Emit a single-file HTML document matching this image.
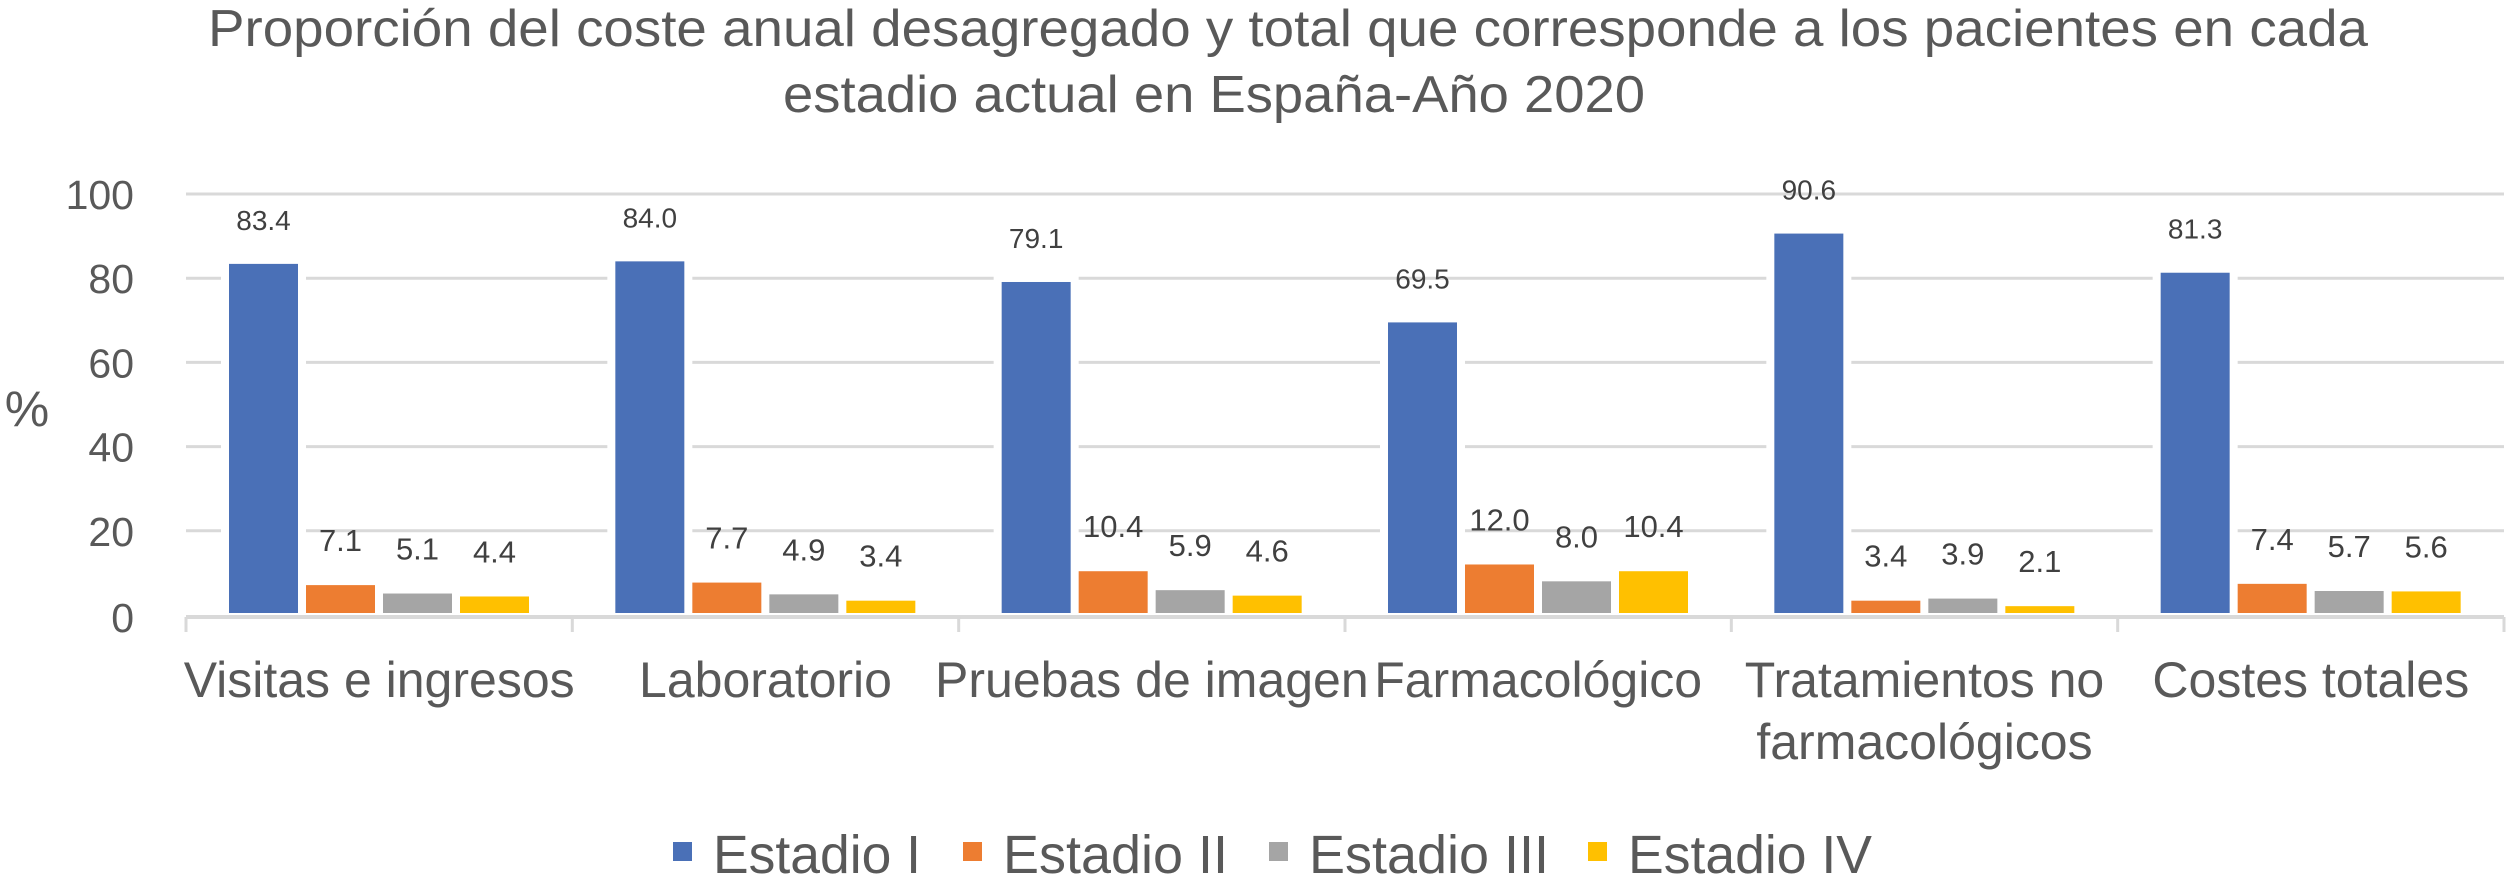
<!DOCTYPE html>
<html><head><meta charset="utf-8"><style>
html,body{margin:0;padding:0;background:#fff;}
svg{display:block;font-family:"Liberation Sans",Arial,sans-serif;}
</style></head><body>
<svg id="chart" width="2507" height="875" viewBox="0 0 2507 875" xmlns="http://www.w3.org/2000/svg">
<text x="1288" y="46" font-size="52" fill="#595959" text-anchor="middle" textLength="2160" lengthAdjust="spacingAndGlyphs">Proporción del coste anual desagregado y total que corresponde a los pacientes en cada</text>
<text x="1214" y="112" font-size="52" fill="#595959" text-anchor="middle" textLength="862" lengthAdjust="spacingAndGlyphs">estadio actual en España-Año 2020</text>
<text x="27" y="426" font-size="50" fill="#595959" text-anchor="middle">%</text>
<g id="grid"></g><g id="bars"></g><g id="labels"></g><g id="axis"></g><g id="legend"></g>
</svg>
<script>
const categories = [["Visitas e ingresos"],["Laboratorio"],["Pruebas de imagen"],["Farmacológico"],["Tratamientos no","farmacológicos"],["Costes totales"]];
const seriesNames = ["Estadio I","Estadio II","Estadio III","Estadio IV"];
const estadio1 = [83.4,84.0,79.1,69.5,90.6,81.3];
const estadio2 = [7.1,7.7,10.4,12.0,3.4,7.4];
const estadio3 = [5.1,4.9,5.9,8.0,3.9,5.7];
const estadio4 = [4.4,3.4,4.6,10.4,2.1,5.6];
const yTicks = [0,20,40,60,80,100];
const colors = ["#4a70b7","#ed7d31","#a5a5a5","#ffc000"];
const series = [estadio1,estadio2,estadio3,estadio4];

const NS="http://www.w3.org/2000/svg";
const x0=186,x1=2504,y0=615,yTop=192;
const catW=(x1-x0)/categories.length;
const y=v=>y0-(v/100)*(y0-yTop-2);
function mk(tag,attrs,parent,txt){const e=document.createElementNS(NS,tag);for(const k in attrs)e.setAttribute(k,attrs[k]);if(txt!==undefined)e.textContent=txt;parent.appendChild(e);return e;}
const grid=document.getElementById('grid'),bars=document.getElementById('bars'),labels=document.getElementById('labels'),axis=document.getElementById('axis'),legend=document.getElementById('legend');
yTicks.forEach(t=>{
  const yy=t===0?617:y(t);
  if(t>0){const g=mk('line',{x1:x0,x2:x1,y1:yy,y2:yy,stroke:'#d9d9d9','stroke-width':3},grid);
  
  }
  const l=mk('text',{x:134,y:yy+15,'font-size':41,fill:'#595959','text-anchor':'end'},axis,String(t));
  
  
});
const bw=69,step=77;
categories.forEach((c,i)=>{
  const gx=x0+i*catW+43;
  series.forEach((s,j)=>{
    const v=s[i];const bx=gx+j*step;const top=y(v);
    const r=mk('rect',{x:bx,y:top,width:bw,height:613-top,fill:colors[j]},bars);
    if(j===0){r.setAttribute('stroke','#fff');r.setAttribute('stroke-width','16');r.setAttribute('paint-order','stroke');}
    
    
    const t=mk('text',{x:bx+bw/2,y:top-34,'font-size':j===0?28:31,fill:'#404040','text-anchor':'middle'},labels,v.toFixed(1));
    
    
  });
  const cx=x0+i*catW+catW/2;
  c.forEach((line,k)=>{
    const t=mk('text',{x:cx,y:697+k*62,'font-size':50,fill:'#595959','text-anchor':'middle'},axis,line);
    
    
  });
});
const ax=mk('line',{x1:x0,x2:x1,y1:617,y2:617,stroke:'#d9d9d9','stroke-width':4},axis);


for(let i=0;i<=categories.length;i++){
  const tx=x0+i*catW;
  const tk=mk('line',{x1:tx,x2:tx,y1:617,y2:632,stroke:'#d9d9d9','stroke-width':3},axis);
  
  
}
const legX=[673,963,1269,1588];
const legW=[208,225,240,244];
seriesNames.forEach((n,j)=>{
  const sq=mk('rect',{x:legX[j],y:842,width:19,height:19,fill:colors[j]},legend);
  
  
  const t=mk('text',{x:legX[j]+40,y:873,'font-size':54,fill:'#595959',textLength:legW[j],lengthAdjust:'spacingAndGlyphs'},legend,n);
  
  
});
</script>
</body></html>
